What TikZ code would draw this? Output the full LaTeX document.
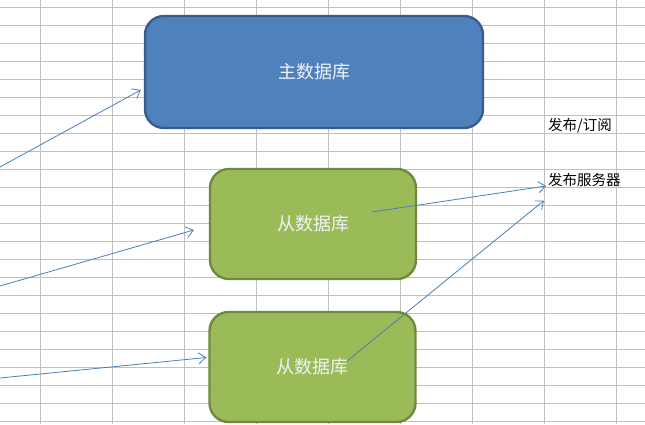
\documentclass[tikz,border=0pt]{standalone}
\usepackage{fontspec}
\newfontfamily\cjk{Noto Sans CJK SC}
\usepackage{tikz}
\usetikzlibrary{arrows.meta,backgrounds}
\definecolor{gridgray}{RGB}{192,192,192}
\definecolor{masterfill}{RGB}{79,129,189}
\definecolor{masterline}{RGB}{56,93,138}
\definecolor{slavefill}{RGB}{155,187,89}
\definecolor{slaveline}{RGB}{113,137,63}
\definecolor{linkblue}{RGB}{74,126,187}
\definecolor{boxtext}{RGB}{240,242,245}

\begin{document}
\begin{tikzpicture}[x=1pt,y=-1pt,font=\cjk,
db/.style={draw, line width=2.4pt, rounded corners=19pt, text=boxtext, font=\cjk\fontsize{18}{20}\selectfont},
dbmaster/.style={db, fill=masterfill, draw=masterline, minimum width=338pt, minimum height=112pt},
dbslave/.style={db, fill=slavefill, draw=slaveline, minimum width=206pt, minimum height=110pt},
label/.style={anchor=west, inner sep=0pt, font=\cjk\fontsize{14.5}{16}\selectfont},
link/.style={draw=linkblue, line width=0.8pt, -{Straight Barb[length=7pt,width=11pt]}}]
\useasboundingbox (0,0) rectangle (645,424);
\fill[white] (0,0) rectangle (645,424);
\foreach \x in {0,...,8}
  \draw[gridgray, line width=1pt] (40.5+72*\x,0) -- (40.5+72*\x,424);
\foreach \y in {0,...,23}
  \draw[gridgray, line width=1pt] (0,7.3+18*\y) -- (645,7.3+18*\y);
\node[dbmaster] (master) at (314,72) {主数据库};
\node[dbslave] (slave1) at (313,224) {从数据库};
\node[dbslave] (slave2) at (312.5,367) {从数据库};
\node[label] (pubsub) at (548,126) {发布/订阅};
\node[label] (pubsrv) at (548,180) {发布服务器};
\coordinate (in1) at (0,167);
\coordinate (in2) at (0,286);
\coordinate (in3) at (0,378);
\draw[link] (in1) -- ([xshift=-3pt,yshift=-18pt]master.west);
\draw[link] (in2) -- ([xshift=-15pt,yshift=-6pt]slave1.west);
\draw[link] (in3) -- ([xshift=-2pt,yshift=9.5pt]slave2.west);
\draw[link] ([xshift=59pt,yshift=12pt]slave1.center) -- ([xshift=-2pt,yshift=-6pt]pubsrv.west);
\draw[link] ([xshift=34.5pt,yshift=6pt]slave2.center) -- ([xshift=-4pt,yshift=-20.5pt]pubsrv.west);
\end{tikzpicture}
\end{document}
